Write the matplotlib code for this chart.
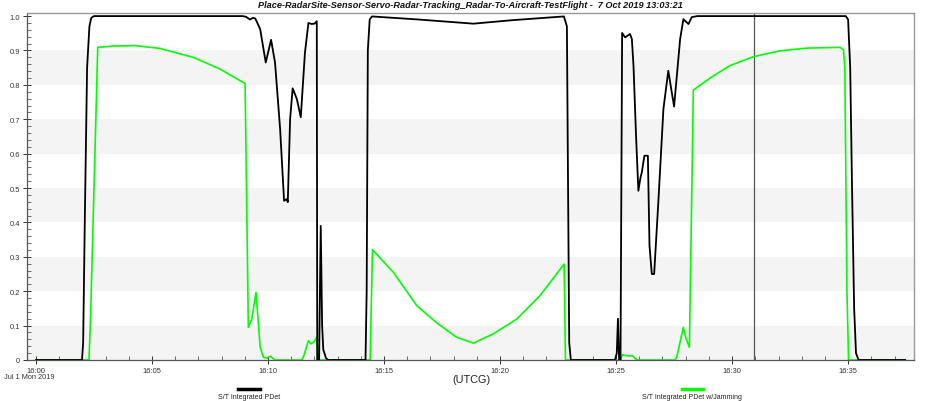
import matplotlib
matplotlib.use("Agg")
import matplotlib.pyplot as plt
from matplotlib.ticker import MultipleLocator, FixedLocator

plt.rcParams['font.family'] = ['Liberation Sans', 'DejaVu Sans']

# ---- data (minutes after 16:00 UTCG) ----
pdet_t = [0, 1.98, 2.03, 2.1, 2.2, 2.3, 2.38, 2.5, 8.9, 9.05, 9.22, 9.35, 9.45, 9.66, 9.90,
          10.13, 10.30, 10.52, 10.69, 10.81, 10.85, 10.95, 11.06, 11.24, 11.41, 11.59, 11.74,
          11.88, 12.0, 12.10, 12.12, 12.20, 12.27, 12.33, 12.38, 12.5, 12.6,
          14.2, 14.25, 14.3, 14.38, 14.48, 16.5, 18.85, 20.5, 22.75, 22.88, 22.93, 22.98, 23.05,
          24.95, 25.03, 25.08, 25.13, 25.19, 25.26, 25.39, 25.6, 25.68, 25.75, 25.86, 25.96,
          26.05, 26.11, 26.22, 26.37, 26.44, 26.54, 26.64, 26.82, 27.04, 27.25, 27.4, 27.5,
          27.76, 27.9, 28.12, 28.26, 28.5, 34.9, 35.0, 35.09, 35.17, 35.26, 35.34, 35.45, 37.46]
pdet_v = [0, 0, 0.05, 0.4, 0.85, 0.97, 0.995, 1.0, 1.0, 0.998, 0.99, 0.995, 0.993, 0.962, 0.865,
          0.931, 0.865, 0.671, 0.463, 0.468, 0.459, 0.70, 0.79, 0.759, 0.706, 0.894, 0.98,
          0.977, 0.978, 0.985, 0.0, 0.0, 0.39, 0.1, 0.03, 0.005, 0,
          0, 0.2, 0.9, 0.99, 0.999, 0.99, 0.978, 0.988, 0.999, 0.97, 0.5, 0.05, 0,
          0, 0.02, 0.12, 0.0, 0.0, 0.951, 0.938, 0.948, 0.933, 0.856, 0.652, 0.492,
          0.53, 0.546, 0.594, 0.594, 0.332, 0.25, 0.25, 0.458, 0.73, 0.841, 0.778, 0.737,
          0.933, 0.991, 0.977, 0.997, 1.0, 1.0, 0.99, 0.85, 0.5, 0.15, 0.02, 0, 0]

jam_t = [0, 2.28, 2.34, 2.66, 3.3, 4.3, 5.34, 6.78, 7.93, 9.01, 9.15, 9.30, 9.48, 9.66, 9.80,
         9.95, 10.09, 10.3, 11.45, 11.52, 11.74, 11.84, 11.98, 12.10, 12.14,
         14.40, 14.50, 15.40, 16.41, 17.27, 18.13, 18.85, 19.71, 20.72, 21.72, 22.76, 22.82,
         25.2, 25.26, 25.5, 25.7, 25.9, 27.55, 27.62, 27.75, 27.90, 28.02, 28.16, 28.33, 29.19,
         29.91, 30.92, 32.07, 33.22, 34.66, 34.80, 34.86, 34.95, 35.02, 37.46]
jam_v = [0, 0, 0.1, 0.909, 0.913, 0.914, 0.906, 0.880, 0.846, 0.804, 0.095, 0.119, 0.197, 0.037, 0.008,
         0.005, 0.011, 0.0, 0.0, 0.008, 0.056, 0.047, 0.053, 0.066, 0.0,
         0, 0.321, 0.255, 0.158, 0.108, 0.066, 0.049, 0.076, 0.119, 0.187, 0.279, 0,
         0, 0.015, 0.012, 0.012, 0, 0, 0.01, 0.05, 0.095, 0.061, 0.037, 0.785, 0.826,
         0.856, 0.882, 0.899, 0.907, 0.909, 0.902, 0.85, 0.2, 0.0, 0]

x_ticks = [0, 5, 10, 15, 20, 25, 30, 35]
x_labels = ["16:00", "16:05", "16:10", "16:15", "16:20", "16:25", "16:30", "16:35"]
y_ticks = [0, 0.1, 0.2, 0.3, 0.4, 0.5, 0.6, 0.7, 0.8, 0.9, 1.0]
y_labels = ["0", "0.1", "0.2", "0.3", "0.4", "0.5", "0.6", "0.7", "0.8", "0.9", "1.0"]
marker_time = 30.95
title = "Place-RadarSite-Sensor-Servo-Radar-Tracking_Radar-To-Aircraft-TestFlight -  7 Oct 2019 13:03:21"
series_names = ["S/T Integrated PDet", "S/T Integrated PDet w/Jamming"]

# ---- figure ----
fig = plt.figure(figsize=(9.4, 4.02), dpi=100)
ax = fig.add_axes([27/940, 41/402, 887/940, 347/402])
ax.set_xlim(-0.39, 37.84)
ax.set_ylim(0, 1.009)

for lo in [0.0, 0.2, 0.4, 0.6, 0.8]:
    ax.axhspan(lo, lo + 0.1, color='#f4f4f4', zorder=0, lw=0)

ax.axvline(marker_time, color='#555555', lw=0.9, zorder=1)
l1, = ax.plot(pdet_t, pdet_v, color='black', lw=1.3, zorder=3)
l2, = ax.plot(jam_t, jam_v, color='#00ff00', lw=1.2, zorder=2)

ax.xaxis.set_major_locator(FixedLocator(x_ticks))
ax.set_xticklabels(x_labels)
ax.xaxis.set_minor_locator(MultipleLocator(1))
ax.yaxis.set_major_locator(FixedLocator(y_ticks))
ax.set_yticklabels(y_labels)
ax.yaxis.set_minor_locator(MultipleLocator(0.02))

ax.tick_params(axis='both', which='major', labelsize=5.4, colors='#333333', direction='inout',
               length=6, width=0.7, pad=2)
ax.tick_params(axis='both', which='minor', direction='in', length=3, width=0.6, colors='#555555')

for s in ['left', 'bottom']:
    ax.spines[s].set_color('#555555')
    ax.spines[s].set_linewidth(0.9)
for s in ['top', 'right']:
    ax.spines[s].set_color('#999999')
    ax.spines[s].set_linewidth(1.0)

fig.text(470/940, 1 - 6/402, title, ha='center', va='center', fontsize=6.6,
         fontweight='bold', fontstyle='italic', color='#111111')
fig.text(29.5/940, 1 - 378/402, "Jul 1 Mon 2019", ha='center', va='center', fontsize=5.3,
         color='#333333')
fig.text(471/940, 1 - 380/402, "(UTCG)", ha='center', va='center', fontsize=7.8, color='#222222')

# legend entries
for (x0, x1, xc, col, name) in [(238, 260, 249, 'black', series_names[0]),
                                (682, 703, 692, '#00ff00', series_names[1])]:
    fig.add_artist(plt.Line2D([x0/940, x1/940], [1 - 390/402, 1 - 390/402], color=col, lw=2.5))
    fig.text(xc/940, 1 - 397.5/402, name, ha='center', va='center', fontsize=5.0, color='#222222')

fig.savefig("out.png", dpi=100)
